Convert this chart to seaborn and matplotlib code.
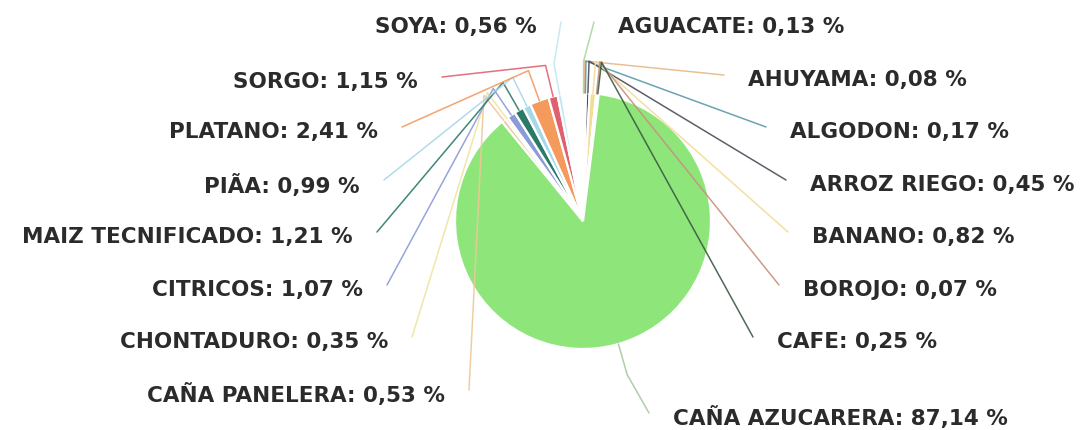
import numpy as np
import matplotlib
matplotlib.use("Agg")
import matplotlib.pyplot as plt
import seaborn as sns

# Crop shares (%) of cultivated area, in drawing order (clockwise from 12 o'clock)
crops = ["AGUACATE", "AHUYAMA", "ALGODON", "ARROZ RIEGO", "BANANO", "BOROJO",
         "CAFE", "CAÑA AZUCARERA", "CAÑA PANELERA", "CHONTADURO", "CITRICOS",
         "MAIZ TECNIFICADO", "PIÃA", "PLATANO", "SORGO", "SOYA"]
shares = [0.13, 0.08, 0.17, 0.45, 0.82, 0.07, 0.25, 87.14, 0.53, 0.35, 1.07,
          1.21, 0.99, 2.41, 1.15, 0.56]
value_labels = ["0,13", "0,08", "0,17", "0,45", "0,82", "0,07", "0,25", "87,14",
                "0,53", "0,35", "1,07", "1,21", "0,99", "2,41", "1,15", "0,56"]

slice_colors = ["#a8d8a0", "#e8b888", "#5a9aa8", "#4a4f58", "#f2dc98", "#c8907c",
                "#3a5a44", "#8ee67a", "#eec89a", "#f0e4a0", "#8c9ad8", "#2a7a6a",
                "#a8d8e8", "#f39a5c", "#e06070", "#c4e8f0"]
leader_colors = list(slice_colors)
leader_colors[7] = "#a8c8a0"

# Label layout: (side, x edge, y from top)
label_layout = {
    "AGUACATE": ("R", 618, 27), "AHUYAMA": ("R", 748, 80), "ALGODON": ("R", 790, 132),
    "ARROZ RIEGO": ("R", 810, 185), "BANANO": ("R", 812, 237), "BOROJO": ("R", 803, 290),
    "CAFE": ("R", 777, 342), "CAÑA AZUCARERA": ("R", 673, 418),
    "CAÑA PANELERA": ("L", 445, 395), "CHONTADURO": ("L", 388, 342),
    "CITRICOS": ("L", 363, 290), "MAIZ TECNIFICADO": ("L", 353, 237),
    "PIÃA": ("L", 360, 185), "PLATANO": ("L", 378, 132), "SORGO": ("L", 418, 82),
    "SOYA": ("L", 537, 27),
}

W, H = 1083, 431
CX, CY, R = 583, H - 222, 128

sns.set_theme(style="white")
plt.rcParams["font.family"] = ["DejaVu Sans"]

fig = plt.figure(figsize=(W / 100, H / 100), dpi=100)
ax = fig.add_axes([0, 0, 1, 1])

palette = sns.color_palette(slice_colors)
wedges, _ = ax.pie(np.array(shares) / 100.0, colors=palette, startangle=90,
                   counterclock=False, radius=R, center=(CX, CY), normalize=False,
                   wedgeprops=dict(edgecolor="white", linewidth=1.6))

for w, name, val, lc in zip(wedges, crops, value_labels, leader_colors):
    mid = np.deg2rad((w.theta1 + w.theta2) / 2.0)
    p0 = (CX + R * np.cos(mid), CY + R * np.sin(mid))
    p1 = (CX + 1.25 * R * np.cos(mid), CY + 1.25 * R * np.sin(mid))
    side, xe, ytop = label_layout[name]
    yl = H - ytop
    if side == "R":
        p2 = (xe - 24, yl + 4)
        ha = "left"
    else:
        p2 = (xe + 24, yl + 4)
        ha = "right"
    ax.plot([p0[0], p1[0], p2[0]], [p0[1], p1[1], p2[1]], color=lc, lw=1.1,
            alpha=0.9, solid_capstyle="round", zorder=3)
    ax.text(xe, yl, f"{name}: {val} %", ha=ha, va="center", fontsize=15.5,
            fontweight="bold", color="#2b2b2b", zorder=4)

ax.set_xlim(0, W)
ax.set_ylim(0, H)
ax.set_aspect("equal")
ax.axis("off")
fig.savefig("out.png", dpi=100, facecolor="white")
